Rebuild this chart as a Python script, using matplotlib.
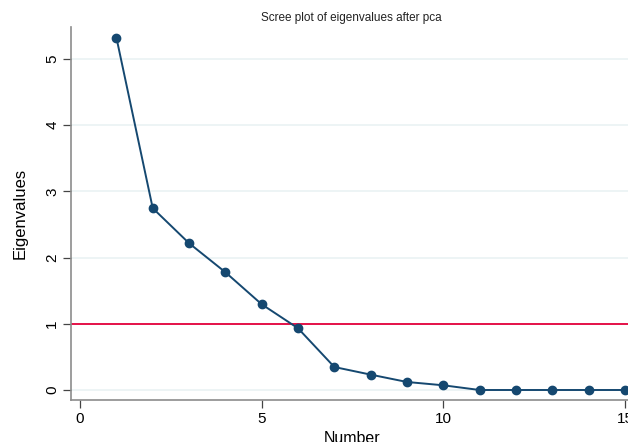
import matplotlib
matplotlib.use("Agg")
import matplotlib.pyplot as plt

# Eigenvalues of the principal components
component = [1, 2, 3, 4, 5, 6, 7, 8, 9, 10, 11, 12, 13, 14, 15]
eigenvalues = [5.32, 2.745, 2.216, 1.778, 1.294, 0.932, 0.347, 0.232, 0.121, 0.071,
               0.0, 0.0, 0.0, 0.0, 0.0]
x_ticks = [0, 5, 10, 15]
y_ticks = [0, 1, 2, 3, 4, 5]
kaiser_cut = 1

plt.rcParams['font.family'] = ['Liberation Sans', 'DejaVu Sans']

W, H = 628, 442
fig = plt.figure(figsize=(W / 100, H / 100), dpi=100)
# axes box in pixels: left 71, right 634, top 27, bottom 400
left, right, top, bottom = 71, 634, 27, 400
ax = fig.add_axes([left / W, (H - bottom) / H, (right - left) / W, (bottom - top) / H])

navy = '#154870'
ax.set_xlim(-0.25, 15.25)
ax.set_ylim(-0.151, 5.48)

for y in y_ticks:
    ax.axhline(y, color='#eaf2f3', lw=1.2, zorder=0)
ax.axhline(kaiser_cut, color='#e4003a', lw=1.3, zorder=1)

ax.plot(component, eigenvalues, color=navy, lw=1.4, marker='o', ms=6.0,
        markerfacecolor=navy, markeredgecolor=navy, zorder=3, clip_on=False)

for s in ['top', 'right']:
    ax.spines[s].set_visible(False)
for s in ['left', 'bottom']:
    ax.spines[s].set_color('#8c8c8c')
    ax.spines[s].set_linewidth(1.2)

ax.set_xticks(x_ticks)
ax.set_yticks(y_ticks)
ax.tick_params(axis='both', direction='out', length=5.5, width=0.9, color='#444444',
               labelsize=11, labelcolor='#000000', pad=3)
for lab in ax.get_yticklabels():
    lab.set_rotation(90)
    lab.set_va('center')

ax.set_ylabel('Eigenvalues', fontsize=12, labelpad=13)
ax.set_xlabel('Number', fontsize=11.5, labelpad=4)

fig.text(351 / W, 1 - 18 / H, 'Scree plot of eigenvalues after pca',
         ha='center', va='center', fontsize=8.5,
         family=['Liberation Sans Narrow', 'Liberation Sans', 'DejaVu Sans'],
         color='#222222')

fig.savefig('out.png', dpi=100, facecolor='white')
